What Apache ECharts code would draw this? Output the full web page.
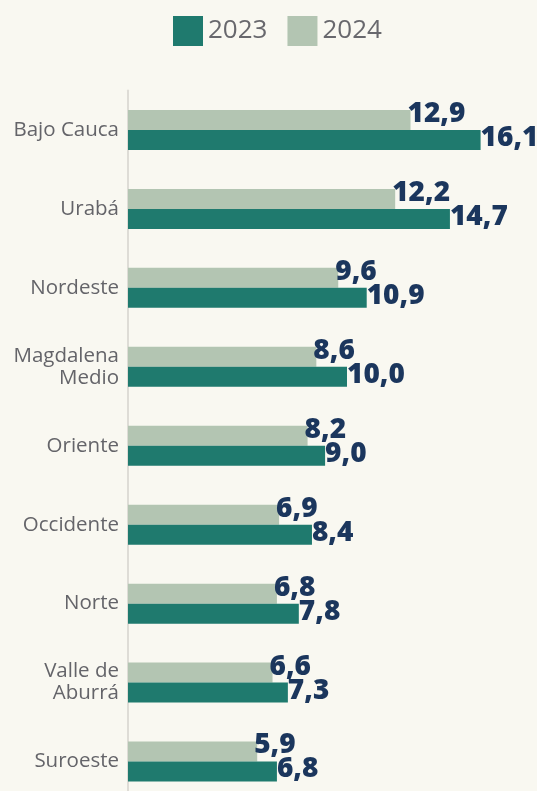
<!DOCTYPE html>
<html>
<head>
<meta charset="utf-8">
<script src="https://cdn.jsdelivr.net/npm/echarts@6/dist/echarts.min.js"></script>
<style>
html,body{margin:0;padding:0;background:#f9f8f1;overflow:hidden;}
#chart{width:537px;height:801px;}
</style>
</head>
<body>
<div id="chart"></div>
<script>
const categories = ['Bajo Cauca','Urabá','Nordeste','Magdalena\nMedio','Oriente','Occidente','Norte','Valle de\nAburrá','Suroeste'];
const values2023 = [16.1,14.7,10.9,10.0,9.0,8.4,7.8,7.3,6.8];
const values2024 = [12.9,12.2,9.6,8.6,8.2,6.9,6.8,6.6,5.9];
const seriesNames = ['2023','2024'];

const chart = echarts.init(document.getElementById('chart'), null, {renderer:'canvas'});
const fmt = p => p.value.toFixed(1).replace('.', ',');
const labelStyle = {
  show: true, position: 'right', distance: 0,
  color: '#1b365d', fontFamily: 'Open Sans', fontWeight: 800, fontSize: 28,
  formatter: fmt
};
chart.setOption({
  backgroundColor: '#f9f8f1',
  animation: false,
  legend: {
    data: seriesNames,
    top: 16, left: 173, padding: 0,
    itemWidth: 30, itemHeight: 30, itemGap: 20,
    icon: 'rect',
    textStyle: {color: '#68686d', fontFamily: 'Open Sans', fontSize: 26},
  },
  grid: {left: 128, top: 90.5, width: 394.2, bottom: 0, containLabel: false},
  xAxis: {type: 'value', min: 0, max: 18, show: false},
  yAxis: {
    type: 'category', data: categories, inverse: true,
    axisLine: {show: true, lineStyle: {color: '#dedcd6', width: 2}},
    axisTick: {show: false},
    axisLabel: {color: '#646469', fontFamily: 'Open Sans', fontSize: 20.5, margin: 9, lineHeight: 22, align: 'right'}
  },
  series: [
    {name: '2024', type: 'bar', data: values2024, barWidth: 20, barGap: '0%',
     itemStyle: {color: '#b3c5b2'},
     label: Object.assign({}, labelStyle, {offset: [-3, -6]})},
    {name: '2023', type: 'bar', data: values2023, barWidth: 20, barGap: '0%',
     itemStyle: {color: '#1f7a6e'},
     label: Object.assign({}, labelStyle, {offset: [0, -2]})}
  ]
});
</script>
</body>
</html>
